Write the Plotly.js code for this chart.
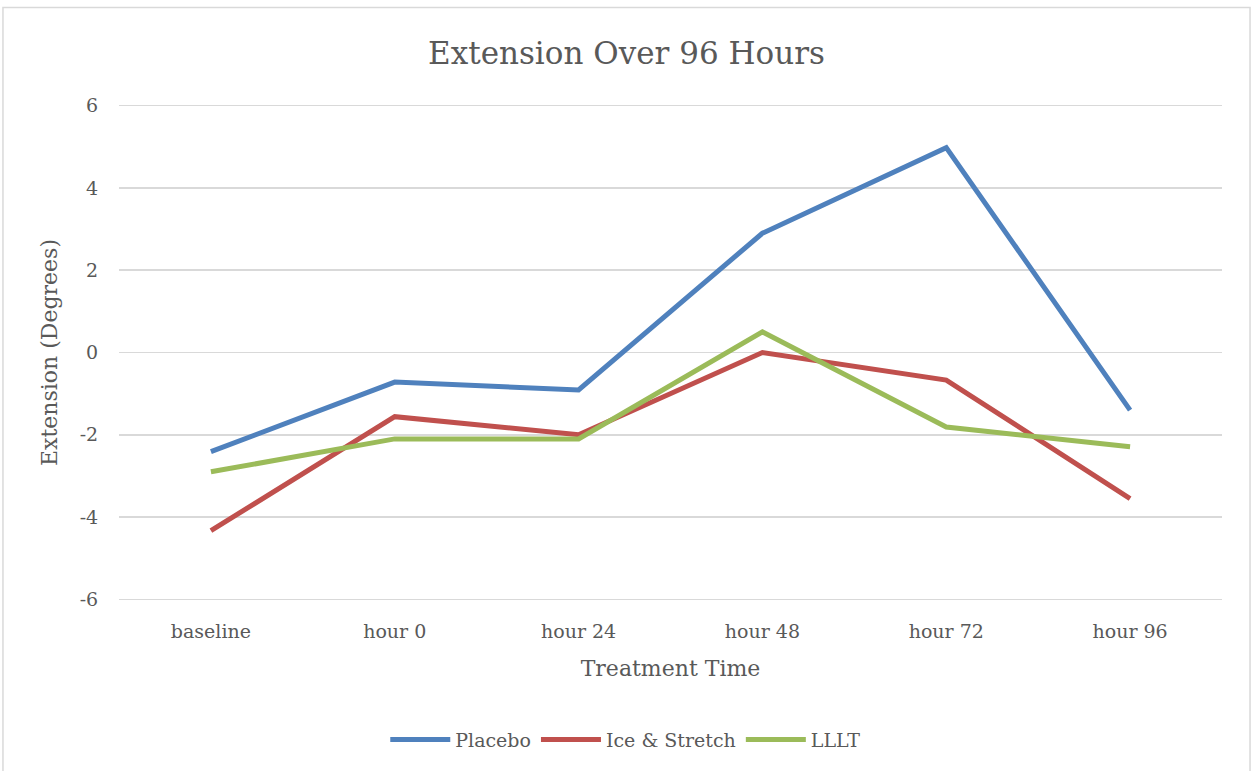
<!DOCTYPE html>
<html>
<head>
<meta charset="utf-8">
<script src="https://cdn.plot.ly/plotly-3.0.1.min.js"></script>
<style>html,body{margin:0;padding:0;background:#fff;}#chart{width:1253px;height:771px;}</style>
</head>
<body>
<div id="chart"></div>
<script>
const categories = ["baseline", "hour 0", "hour 24", "hour 48", "hour 72", "hour 96"];
const placebo = [-2.41, -0.72, -0.91, 2.90, 4.98, -1.40];
const iceStretch = [-4.33, -1.56, -2.0, 0.0, -0.67, -3.55];
const lllt = [-2.9, -2.1, -2.1, 0.5, -1.81, -2.29];
const seriesNames = ["Placebo", "Ice & Stretch", "LLLT"];
const yTicks = [-6, -4, -2, 0, 2, 4, 6];

const FONT = "DejaVu Serif, Liberation Serif, serif";
const colors = ["#4f81bd", "#c0504d", "#9bbb59"];
const data = [placebo, iceStretch, lllt].map((v, i) => ({
  type: "scatter", mode: "lines", x: categories, y: v, name: seriesNames[i],
  line: {color: colors[i], width: 5, shape: "linear"}
}));

const layout = {
  width: 1253, height: 771,
  margin: {l: 119, r: 31, t: 104, b: 170},
  paper_bgcolor: "#fff", plot_bgcolor: "#fff",
  font: {family: FONT, color: "#595959", size: 19},
  title: {text: "Extension Over 96 Hours", font: {family: FONT, size: 31, color: "#595959"}, x: 0.5, xanchor: "center", y: 0.931, yanchor: "middle"},
  xaxis: {
    type: "category", showgrid: false, zeroline: false, showline: false,
    ticks: "outside", ticklen: 13, tickcolor: "rgba(0,0,0,0)",
    tickfont: {size: 19, color: "#595959"},
    title: {text: "Treatment Time", font: {size: 22, color: "#595959"}, standoff: 19},
    range: [-0.5, 5.5]
  },
  yaxis: {
    range: [-6.04, 6.04], tickvals: yTicks, ticktext: yTicks.map(String),
    showgrid: true, gridcolor: "#d9d9d9", gridwidth: 1.5, zeroline: false, showline: false,
    ticks: "outside", ticklen: 16, tickcolor: "rgba(0,0,0,0)", tickfont: {size: 19, color: "#595959"},
    title: {text: "Extension (Degrees)", font: {size: 22, color: "#595959"}, standoff: 15}
  },
  legend: {orientation: "h", x: 0.459, xanchor: "center", y: -0.279, yanchor: "middle",
    font: {size: 19, color: "#595959"}, itemwidth: 60, tracegroupgap: 0},
  showlegend: true,
  shapes: [{type: "rect", xref: "paper", yref: "paper", x0: -0.1052, x1: 1.0254, y0: -0.36, y1: 1.194,
    line: {color: "#d9d9d9", width: 1.5}, fillcolor: "rgba(0,0,0,0)", layer: "below"}]
};
Plotly.newPlot("chart", data, layout, {displayModeBar: false, staticPlot: true});
</script>
</body>
</html>
